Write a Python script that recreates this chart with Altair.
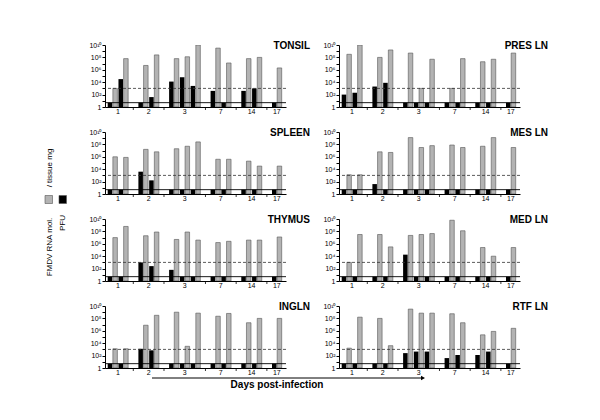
import altair as alt
import pandas as pd

# ---------------- data (log10 values) ----------------
DAYS = ["1", "2", "3", "7", "14", "17"]
ANIMALS_PER_DAY = [2, 2, 3, 2, 2, 1]
DETECTION_LIMIT = 5      # solid line (PFU detection limit)
THRESHOLD = 1000         # dashed line

TONSIL_PFU = [0.7, 4.5, 0.7, 1.6, 4.1, 4.8, 3.4, 2.6, 0.7, 2.6, 3.0, 0.7]
TONSIL_RNA = [3.0, 7.8, 6.7, 8.4, 7.8, 8.1, 10.0, 9.5, 7.1, 7.8, 8.0, 6.3]

PRESLN_PFU = [2.0, 2.3, 3.3, 3.9, 0.7, 0.7, 0.7, 0.7, 0.7, 0.7, 0.7, 0.7]
PRESLN_RNA = [8.5, 10.0, 8.0, 9.2, 8.7, 3.0, 7.7, 3.0, 7.8, 7.3, 7.7, 8.7]

SPLEEN_PFU = [0.7, 0.7, 3.6, 2.2, 0.7, 0.7, 0.7, 0.7, 0.7, 0.7, 0.7, 0.7]
SPLEEN_RNA = [6.0, 5.9, 7.2, 6.8, 7.3, 7.7, 8.4, 5.6, 5.6, 5.3, 4.5, 4.5]

MESLN_PFU = [0.7, 0.7, 1.6, 0.7, 0.7, 0.7, 0.7, 0.7, 0.7, 0.7, 0.7, 0.7]
MESLN_RNA = [3.1, 3.1, 6.8, 6.7, 9.1, 7.5, 7.8, 7.9, 7.5, 7.7, 9.1, 7.5]

THYMUS_PFU = [0.7, 0.7, 3.0, 2.4, 1.8, 0.7, 0.7, 0.7, 0.7, 0.7, 0.7, 0.7]
THYMUS_RNA = [7.0, 8.8, 7.3, 7.9, 6.7, 7.9, 6.6, 6.2, 6.4, 6.6, 6.6, 7.1]

MEDLN_PFU = [0.7, 0.7, 0.7, 0.7, 4.25, 0.7, 0.7, 0.7, 0.7, 0.7, 0.7, 0.7]
MEDLN_RNA = [3.0, 7.5, 7.5, 5.5, 7.35, 7.5, 7.65, 9.8, 8.1, 5.4, 4.0, 5.4]

INGLN_PFU = [0.7, 0.7, 3.1, 2.85, 0.7, 0.7, 0.7, 0.7, 0.7, 0.7, 0.7, 0.7]
INGLN_RNA = [3.1, 3.1, 6.9, 8.5, 9.0, 3.5, 8.85, 8.35, 8.8, 7.3, 8.0, 8.0]

RTFLN_PFU = [0.7, 0.7, 0.7, 0.7, 2.4, 2.65, 2.65, 1.6, 2.1, 2.1, 2.65, 0.7]
RTFLN_RNA = [3.2, 8.2, 8.0, 3.6, 9.5, 8.85, 8.85, 8.75, 7.3, 5.35, 5.9, 6.4]

# ---------------- layout helpers ----------------
W, H = 181, 62
GAP = 0.85
FONT = "Liberation Sans"

positions, day_of = [], []
idx = 0
for g, (d, n) in enumerate(zip(DAYS, ANIMALS_PER_DAY)):
    for _ in range(n):
        positions.append(idx + GAP * g)
        day_of.append(d)
        idx += 1

centers = []
seps = []
start = 0
for g, n in enumerate(ANIMALS_PER_DAY):
    grp = positions[start:start + n]
    centers.append(sum(grp) / n)
    if start + n < len(positions):
        seps.append((grp[-1] + positions[start + n]) / 2)
    start += n

day_df = pd.DataFrame({"c": centers, "day": DAYS})
sep_df = pd.DataFrame({"s": seps})

xscale = alt.Scale(domain=[-0.7, 16.1], nice=False, zero=False)
yscale = alt.Scale(type="log", domain=[1, 1e10], nice=False)
SUP = "['1','','10²','','10⁴','','10⁶','','10⁸','','10¹⁰'][round(log(datum.value)/LN10)]"
yaxis = alt.Axis(values=[10 ** k for k in range(11)], labelExpr=SUP, title=None,
                 grid=False, tickSize=3, tickColor="black", domainColor="black",
                 labelFont=FONT, labelFontSize=7, labelColor="black", labelPadding=1)
xaxis = alt.Axis(labels=False, ticks=False, grid=False, title=None,
                 domainColor="black")


def X(field):
    return alt.X(field, type="quantitative", scale=xscale, axis=xaxis)


def Y(field):
    return alt.Y(field, type="quantitative", scale=yscale, axis=yaxis)


def panel(name, pfu, rna, title_x, extras=()):
    rows = []
    for p, d, a, b in zip(positions, day_of, pfu, rna):
        rows.append(dict(series="PFU", day=d, value=10 ** a, base=1, x0=p - 0.45, x1=p - 0.03))
        rows.append(dict(series="RNA", day=d, value=10 ** b, base=1, x0=p + 0.03, x1=p + 0.45))
    df = pd.DataFrame(rows)
    base = alt.Chart(df)
    grey = base.transform_filter("datum.series == 'RNA'").mark_bar(
        color="#b3b3b3", stroke="#555555", strokeWidth=0.6, clip=True
    ).encode(x=X("x0"), x2="x1", y=Y("value"), y2="base")
    black = base.transform_filter("datum.series == 'PFU'").mark_bar(
        color="#000000", clip=True
    ).encode(x=X("x0"), x2="x1", y=Y("value"), y2="base")
    dashed = alt.Chart(pd.DataFrame({"t": [THRESHOLD]})).mark_rule(
        color="#333333", strokeDash=[3, 2], strokeWidth=0.8
    ).encode(y=Y("t"))
    solid = alt.Chart(pd.DataFrame({"t": [DETECTION_LIMIT]})).mark_rule(
        color="#000000", strokeWidth=0.9
    ).encode(y=Y("t"))
    labels = alt.Chart(day_df).mark_text(
        font=FONT, fontSize=7, baseline="middle", color="black"
    ).encode(x=X("c"), y=alt.value(H + 5), text="day:N")
    ticks = alt.Chart(sep_df).mark_rule(color="black", strokeWidth=0.8).encode(
        x=X("s"), y=alt.value(H), y2=alt.value(H + 3))
    title = alt.Chart(pd.DataFrame({"t": [name]})).mark_text(
        font=FONT, fontSize=10, fontWeight="bold", align="right", baseline="middle",
        color="black"
    ).encode(x=alt.value(title_x), y=alt.value(1), text="t:N")
    layers = [grey, black, dashed, solid, labels, ticks, title] + list(extras)
    return alt.layer(*layers).properties(width=W, height=H)


def text_item(t, x, y, size=8, weight="normal", angle=0):
    return alt.Chart(pd.DataFrame({"t": [t]})).mark_text(
        font=FONT, fontSize=size, fontWeight=weight, angle=angle,
        align="center", baseline="middle", color="black"
    ).encode(x=alt.value(x), y=alt.value(y), text="t:N")


def square(x0, x1, y0, y1, fill):
    return alt.Chart(pd.DataFrame({"k": [0]})).mark_rect(
        color=fill, stroke="#555555", strokeWidth=0.6
    ).encode(x=alt.value(x0), x2=alt.value(x1), y=alt.value(y0), y2=alt.value(y1))


# anchor keeps the top-left of the drawing at the page origin
anchor = alt.Chart(pd.DataFrame({"k": [0]})).mark_rule(opacity=0).encode(
    x=alt.value(-97), x2=alt.value(-96), y=alt.value(-37), y2=alt.value(-36))

legend_items = [
    text_item("/ tissue mg", -55, 36, angle=270),
    square(-60, -52.5, 63.5, 71.5, "#b3b3b3"),
    text_item("FMDV RNA mol.", -55, 115, angle=270),
    square(-46, -38.5, 63.5, 71.5, "#000000"),
    text_item("PFU", -42, 91, angle=270),
]

arrow_items = [
    alt.Chart(pd.DataFrame({"k": [0]})).mark_rule(color="black", strokeWidth=1).encode(
        x=alt.value(47), x2=alt.value(316), y=alt.value(72)),
    alt.Chart(pd.DataFrame({"k": [0]})).mark_point(
        shape="triangle-right", filled=True, size=22, color="black", opacity=1
    ).encode(x=alt.value(318), y=alt.value(72)),
    text_item("Days post-infection", 172, 79, size=10, weight="bold"),
]

LT, RT = 205, 209
panels = [
    panel("TONSIL", TONSIL_PFU, TONSIL_RNA, LT, [anchor]),
    panel("PRES LN", PRESLN_PFU, PRESLN_RNA, RT),
    panel("SPLEEN", SPLEEN_PFU, SPLEEN_RNA, LT, legend_items),
    panel("MES LN", MESLN_PFU, MESLN_RNA, RT),
    panel("THYMUS", THYMUS_PFU, THYMUS_RNA, LT),
    panel("MED LN", MEDLN_PFU, MEDLN_RNA, RT),
    panel("INGLN", INGLN_PFU, INGLN_RNA, LT, arrow_items),
    panel("RTF LN", RTFLN_PFU, RTFLN_RNA, RT),
]

chart = alt.concat(*panels, columns=2, spacing={"row": 25, "column": 53},
                   bounds="flush").properties(
    padding=0, background="white"
).configure_view(stroke=None)

chart.save("out.html", embed_options={"renderer": "svg", "actions": False})
